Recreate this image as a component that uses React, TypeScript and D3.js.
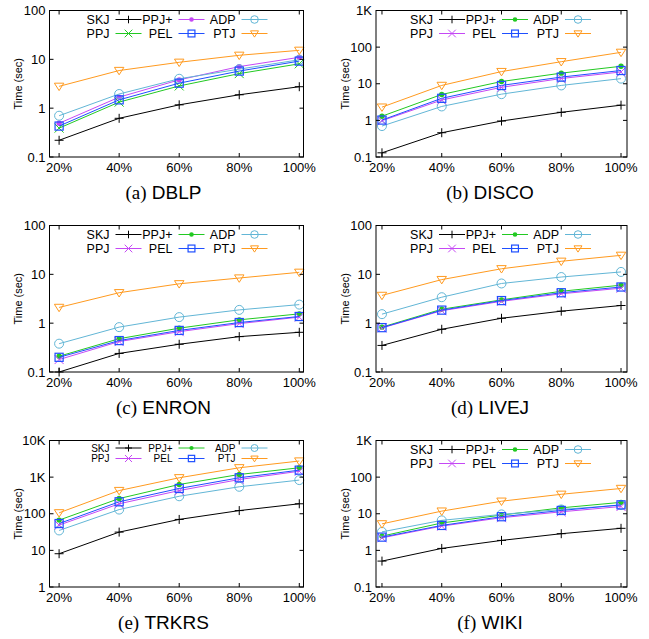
import React from "react";
import * as d3 from "d3";

// x categories and series (plot order = legend order, row-wise)
const percents = ["20%", "40%", "60%", "80%", "100%"];
const seriesNames = ["SKJ", "PPJ+", "ADP", "PPJ", "PEL", "PTJ"];
const markerTypes = ["plus", "dot", "circle", "cross", "square", "tri"];

// times in seconds, one row per series in seriesNames order
const dblpTimes = [
  [0.22, 0.62, 1.17, 1.88, 2.75],
  [0.49, 1.68, 3.8, 7.1, 11.0],
  [0.7, 1.95, 4.0, 6.3, 9.8],
  [0.39, 1.33, 2.85, 5.1, 8.1],
  [0.43, 1.48, 3.25, 5.75, 9.2],
  [2.8, 5.9, 8.7, 12.1, 15.3],
];
const discoTimes = [
  [0.13, 0.46, 0.96, 1.66, 2.6],
  [1.3, 5.1, 11.5, 19.5, 30],
  [0.7, 2.4, 5.2, 9.0, 13.8],
  [0.98, 3.6, 8.0, 13.9, 21],
  [1.02, 4.0, 9.0, 15.2, 23],
  [2.3, 9.0, 21.5, 40, 72],
];
const enronTimes = [
  [0.1, 0.24, 0.37, 0.53, 0.65],
  [0.21, 0.48, 0.79, 1.17, 1.55],
  [0.38, 0.83, 1.33, 1.87, 2.4],
  [0.18, 0.42, 0.67, 0.98, 1.33],
  [0.2, 0.44, 0.71, 1.03, 1.37],
  [2.1, 4.2, 6.4, 8.4, 11.0],
];
const livejTimes = [
  [0.35, 0.75, 1.26, 1.76, 2.3],
  [0.83, 1.93, 3.0, 4.5, 6.0],
  [1.53, 3.4, 6.5, 8.8, 11.2],
  [0.8, 1.8, 2.8, 4.0, 5.2],
  [0.81, 1.85, 2.9, 4.2, 5.5],
  [3.7, 7.8, 13.0, 18.5, 24.5],
];
const trkrsTimes = [
  [8.1, 31.5, 70, 122, 187],
  [67, 260, 630, 1180, 1800],
  [35, 130, 300, 545, 830],
  [49, 187, 430, 860, 1450],
  [54, 212, 490, 960, 1550],
  [106, 430, 960, 1800, 2750],
];
const wikiTimes = [
  [0.51, 1.13, 1.87, 2.85, 4.0],
  [2.45, 5.6, 9.2, 14.5, 20.5],
  [3.2, 6.6, 9.6, 13.1, 17.2],
  [2.2, 4.6, 7.8, 11.3, 15.8],
  [2.3, 4.8, 8.3, 12.3, 17.5],
  [5.3, 11.8, 22, 34, 49],
];

const green = "#22c922";
const violet = "#c548f5";
const cyan = "#62b6d6";
const blue = "#1f4fff";
const orange = "#ff9a1f";
const normalColors = ["#000000", green, cyan, violet, blue, orange];
const dblpColors = ["#000000", violet, cyan, green, blue, orange];

const panels = [
  { tag: "(a)", name: "DBLP", data: dblpTimes, colors: dblpColors, yMin: 0.1, yMax: 100, x0: 49.5, x1: 303.5, y0: 10.5, col: 0, small: false },
  { tag: "(b)", name: "DISCO", data: discoTimes, colors: normalColors, yMin: 0.1, yMax: 1000, x0: 376, x1: 627, y0: 10.5, col: 1, small: false },
  { tag: "(c)", name: "ENRON", data: enronTimes, colors: normalColors, yMin: 0.1, yMax: 100, x0: 49.5, x1: 303.5, y0: 225.5, col: 0, small: false },
  { tag: "(d)", name: "LIVEJ", data: livejTimes, colors: normalColors, yMin: 0.1, yMax: 100, x0: 376, x1: 627, y0: 225.5, col: 1, small: false },
  { tag: "(e)", name: "TRKRS", data: trkrsTimes, colors: normalColors, yMin: 1, yMax: 10000, x0: 49.5, x1: 303.5, y0: 440.5, col: 0, small: true },
  { tag: "(f)", name: "WIKI", data: wikiTimes, colors: normalColors, yMin: 0.1, yMax: 1000, x0: 376, x1: 627, y0: 440.5, col: 1, small: false },
];

const plotH = 146.5;
const sans = "'Liberation Sans', Arial, sans-serif";
const serif = "'Liberation Serif', 'Times New Roman', serif";

const fmtTick = (v: number) => (v >= 1000 ? `${v / 1000}K` : `${v}`);

const Marker = ({ type, x, y, color, s }: { type: string; x: number; y: number; color: string; s: number }) => {
  if (type === "plus")
    return <path d={`M${x - s},${y}H${x + s}M${x},${y - s}V${y + s}`} stroke={color} strokeWidth={1} fill="none" />;
  if (type === "cross")
    return (
      <path
        d={`M${x - s},${y - s}L${x + s},${y + s}M${x - s},${y + s}L${x + s},${y - s}`}
        stroke={color}
        strokeWidth={1}
        fill="none"
      />
    );
  if (type === "dot") return <circle cx={x} cy={y} r={s * 0.6} fill={color} />;
  if (type === "circle") return <circle cx={x} cy={y} r={s} fill="none" stroke={color} strokeWidth={1} />;
  if (type === "square")
    return <rect x={x - s * 0.9} y={y - s * 0.9} width={s * 1.8} height={s * 1.8} fill="none" stroke={color} strokeWidth={1.2} />;
  return (
    <path
      d={`M${x - s * 1.05},${y - s * 0.7}L${x + s * 1.05},${y - s * 0.7}L${x},${y + s * 0.95}Z`}
      fill="none"
      stroke={color}
      strokeWidth={1}
    />
  );
};

const Panel = ({ p }: { p: (typeof panels)[number] }) => {
  const xDomain = p.col === 0 ? [-0.16, 4.07] : [-0.1, 4.1];
  const x = d3.scaleLinear().domain(xDomain).range([p.x0, p.x1]);
  const y = d3.scaleLog().domain([p.yMin, p.yMax]).range([p.y0 + plotH, p.y0]);
  const bottom = p.y0 + plotH;
  const yTicks: number[] = [];
  for (let v = p.yMin; v <= p.yMax * 1.0001; v *= 10) yTicks.push(+v.toPrecision(3));
  const line = d3
    .line<number>()
    .x((_, i) => x(i))
    .y((v) => y(v));

  // legend layout
  const lf = p.small ? 10 : 12.5;
  const row0 = p.y0 + (p.small ? 7.5 : 9);
  const rowGap = p.small ? 10.5 : 14;
  const sampleLen = 26;
  const colW = 63;
  const lastEnd = p.x1 - 36;

  return (
    <g>
      {p.data.map((vals, si) => (
        <g key={si}>
          <path d={line(vals) || ""} fill="none" stroke={p.colors[si]} strokeWidth={1} />
          {vals.map((v, i) => (
            <Marker key={i} type={markerTypes[si]} x={x(i)} y={y(v)} color={p.colors[si]} s={4.5} />
          ))}
        </g>
      ))}
      {/* legend */}
      {seriesNames.map((name, si) => {
        const c = si % 3;
        const r = Math.floor(si / 3);
        const sEnd = lastEnd - (2 - c) * colW;
        const sStart = sEnd - sampleLen;
        const ty = row0 + r * rowGap;
        return (
          <g key={name}>
            <text x={sStart - 6} y={ty} dy="0.36em" textAnchor="end" fontFamily={sans} fontSize={lf}>
              {name}
            </text>
            <line x1={sStart} x2={sEnd} y1={ty} y2={ty} stroke={p.colors[si]} strokeWidth={1} />
            <Marker type={markerTypes[si]} x={(sStart + sEnd) / 2} y={ty} color={p.colors[si]} s={p.small ? 3.5 : 3.8} />
          </g>
        );
      })}
      {/* frame and ticks */}
      <rect x={p.x0} y={p.y0} width={p.x1 - p.x0} height={plotH} fill="none" stroke="#000" strokeWidth={1} />
      {percents.map((t, i) => (
        <g key={t}>
          <line x1={x(i)} x2={x(i)} y1={bottom} y2={bottom - 4} stroke="#000" />
          <line x1={x(i)} x2={x(i)} y1={p.y0} y2={p.y0 + 4} stroke="#000" />
          <text x={x(i)} y={bottom + 15} textAnchor="middle" fontFamily={sans} fontSize={13}>
            {t}
          </text>
        </g>
      ))}
      {yTicks.map((v) => (
        <g key={v}>
          <line x1={p.x0} x2={p.x0 + 4} y1={y(v)} y2={y(v)} stroke="#000" />
          <line x1={p.x1} x2={p.x1 - 4} y1={y(v)} y2={y(v)} stroke="#000" />
          <text x={p.x0 - 4} y={y(v)} dy="0.36em" textAnchor="end" fontFamily={sans} fontSize={13}>
            {fmtTick(v)}
          </text>
        </g>
      ))}
      <text
        transform={`translate(${p.x0 - 31},${p.y0 + plotH / 2}) rotate(-90)`}
        textAnchor="middle"
        dy="0.36em"
        fontFamily={sans}
        fontSize={11}
      >
        Time (sec)
      </text>
      <text x={p.x0 + 114} y={bottom + 42} textAnchor="middle" fontSize={19}>
        <tspan fontFamily={serif}>{p.tag}</tspan>
        <tspan fontFamily={sans}>{"\u00a0" + p.name}</tspan>
      </text>
    </g>
  );
};

export default function App() {
  return (
    <svg width={649} height={639} style={{ position: "absolute", left: 0, top: 0, background: "#fff" }}>
      <rect width={649} height={639} fill="#fff" />
      {panels.map((p) => (
        <Panel key={p.name} p={p} />
      ))}
    </svg>
  );
}
